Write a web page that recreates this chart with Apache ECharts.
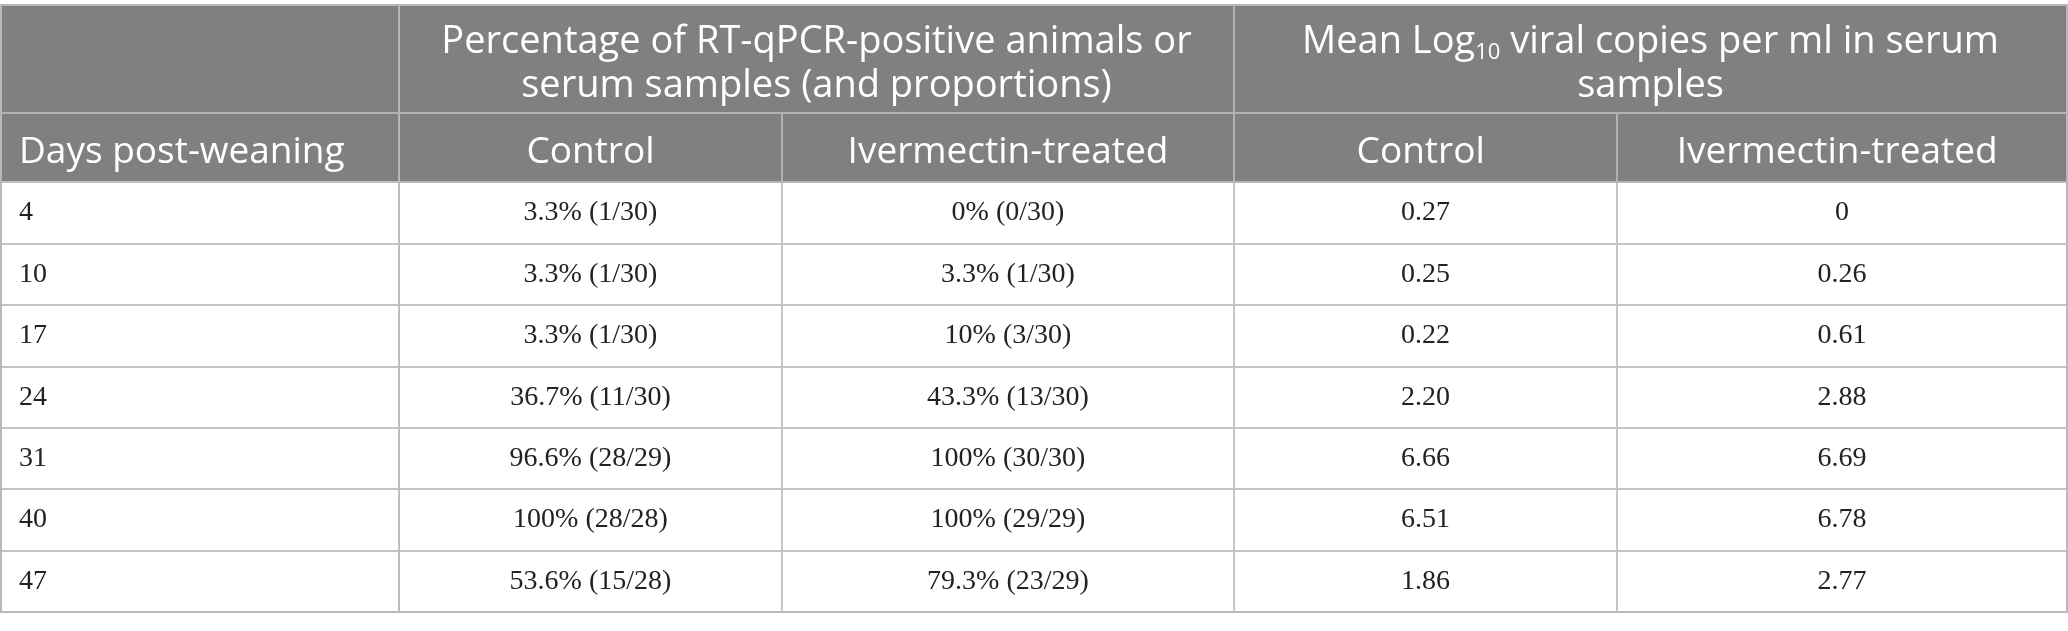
<!DOCTYPE html>
<html>
<head>
	<meta charset="UTF-8">
	<script src="https://cdn.jsdelivr.net/npm/echarts@6.0.0/dist/echarts.min.js"></script>
	<title></title>
	<style>html, body { margin: 0; padding: 0; background: #fff; }</style>
</head>
<body>
	<div id="main" style="height:631px;width:2068px;"></div>
	<script type="text/javascript">
        // table contents
        var days = ['4', '10', '17', '24', '31', '40', '47'];
        var pctControl = ['3.3% (1/30)', '3.3% (1/30)', '3.3% (1/30)', '36.7% (11/30)', '96.6% (28/29)', '100% (28/28)', '53.6% (15/28)'];
        var pctTreated = ['0% (0/30)', '3.3% (1/30)', '10% (3/30)', '43.3% (13/30)', '100% (30/30)', '100% (29/29)', '79.3% (23/29)'];
        var logControl = ['0.27', '0.25', '0.22', '2.20', '6.66', '6.51', '1.86'];
        var logTreated = ['0', '0.26', '0.61', '2.88', '6.69', '6.78', '2.77'];
        var groupHeaders = [
            '{h|Percentage of RT-qPCR-positive animals or\nserum samples (and proportions)}',
            '{h|Mean Log}{sub|10}{h| viral copies per ml in serum}\n{h|samples}'
        ];
        var groupNames = ['Control', 'Ivermectin-treated'];
        var cornerTitle = 'Days post-weaning';

        // layout
        var colSizes = [383, 452, 383, 452];
        var headFont = '"Open Sans"';
        var bodyFont = '"Liberation Serif"';

        var myChart = echarts.init(document.getElementById('main'));

        var columns = [pctControl, pctTreated, logControl, logTreated];
        var cells = [];
        columns.forEach(function (col, c) {
            col.forEach(function (v, r) {
                cells.push({ coord: [c, r], value: v });
            });
        });

        // leaf names must be unique in a matrix dimension, so pad the second group with a space
        var xData = groupHeaders.map(function (h, g) {
            return {
                value: h,
                label: { padding: [15, 0, 0, 0] },
                children: groupNames.map(function (n, k) {
                    return { value: g ? n + ' ' : n, size: colSizes[g * 2 + k] };
                })
            };
        });

        var headLabel = {
            color: '#fff',
            fontFamily: headFont,
            fontSize: 37,
            overflow: 'none',
            padding: [21, 0, 0, 0],
            rich: {
                h: { fontSize: 38, lineHeight: 44, color: '#fff', fontFamily: headFont },
                sub: { fontSize: 22, lineHeight: 44, verticalAlign: 'bottom', color: '#fff', fontFamily: headFont }
            }
        };
        var headStyle = { color: '#7f807f', borderColor: '#b2b2b2', borderWidth: 2 };

        var option = {
            matrix: {
                left: 1,
                top: 5,
                width: 2066,
                height: 607,
                x: {
                    data: xData,
                    levels: [{ levelSize: 108 }, { levelSize: 69 }],
                    label: headLabel,
                    itemStyle: headStyle
                },
                y: {
                    data: days,
                    levels: [{ levelSize: 398 }],
                    label: { color: '#222', fontFamily: bodyFont, fontSize: 28, position: 'insideLeft', distance: 18, padding: [10, 0, 0, 0] },
                    itemStyle: { color: '#fff', borderColor: '#c4c4c4', borderWidth: 2 }
                },
                corner: {
                    data: [{ coord: [-1, -1], value: cornerTitle, label: { position: 'insideLeft', distance: 18 } }],
                    label: headLabel,
                    itemStyle: headStyle
                },
                body: {
                    data: cells,
                    label: { color: '#222', fontFamily: bodyFont, fontSize: 28, padding: [10, 0, 0, 0] },
                    itemStyle: { color: '#fff', borderColor: '#c4c4c4', borderWidth: 2 }
                },
                backgroundStyle: { borderColor: '#b8b8b8', borderWidth: 2 }
            }
        };
        myChart.setOption(option);
	</script>
</body>
</html>
